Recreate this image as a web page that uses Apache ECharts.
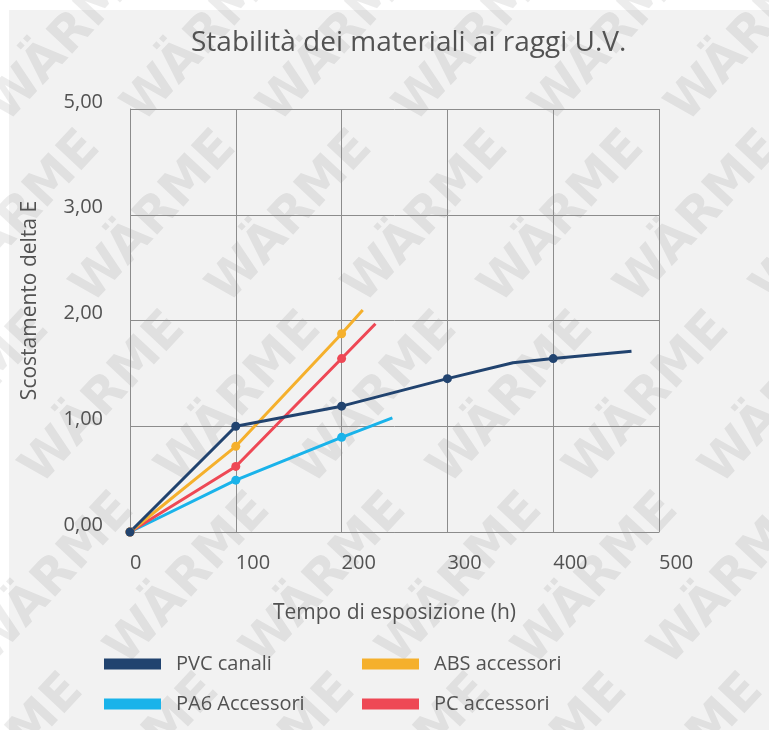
<!DOCTYPE html>
<html>
<head>
<meta charset="utf-8">
<script src="https://cdn.jsdelivr.net/npm/echarts@6/dist/echarts.min.js"></script>
<style>
  html, body { margin: 0; padding: 0; background: #ffffff; }
  #chart { width: 769px; height: 730px; }
</style>
</head>
<body>
<div id="chart"></div>
<script>
// Colour difference (delta E) against UV exposure time, per material
const seriesNames = ['PVC canali', 'PA6 Accessori', 'ABS accessori', 'PC accessori'];

const pvcHours   = [0, 100, 200, 300, 362, 400, 474];
const pvcDeltaE  = [0, 1.00, 1.19, 1.45, 1.60, 1.64, 1.71];

const pa6Hours   = [0, 100, 200, 248];
const pa6DeltaE  = [0, 0.49, 0.895, 1.08];

const absHours   = [0, 100, 200, 220];
const absDeltaE  = [0, 0.81, 1.875, 2.10];

const pcHours    = [0, 100, 200, 232];
const pcDeltaE   = [0, 0.62, 1.64, 1.97];

const xTickLabels = ['0', '100', '200', '300', '400', '500'];
const yTickLabels = ['0,00', '1,00', '2,00', '3,00', '5,00'];

const colors = {
  'PVC canali': '#21436f',
  'PA6 Accessori': '#1ab3ea',
  'ABS accessori': '#f5b02c',
  'PC accessori': '#ee4855'
};

const textColor = '#525252';
const gridColor = '#8c8c8c';
const font = '"Open Sans", "Noto Sans", sans-serif';

// measured readings sit on the 100 h steps; other vertices only shape the curve
function points(hours, values) {
  return hours.map((h, i) => ({
    value: [h, values[i]],
    symbol: h % 100 === 0 ? 'circle' : 'none'
  }));
}

function lineSeries(name, hours, values) {
  return {
    name: name,
    type: 'line',
    data: points(hours, values),
    symbolSize: 9,
    showAllSymbol: true,
    lineStyle: { width: 3, color: colors[name] },
    itemStyle: { color: colors[name] },
    emphasis: { disabled: true },
    animation: false
  };
}

// faint repeated brand mark behind the plot
const watermark = [];
for (let j = -3; j <= 5; j++) {
  for (let i = -7; i <= 7; i++) {
    const cx = 563 + 136 * i + 85 * j;
    const cy = 218 + 181 * j;
    if (cx < -150 || cx > 920 || cy < -150 || cy > 880) continue;
    watermark.push({
      type: 'text',
      x: cx,
      y: cy,
      rotation: 47 * Math.PI / 180,
      z: -10,
      silent: true,
      style: {
        text: 'WÄRME',
        fill: 'rgba(0,0,0,0.075)',
        fontSize: 50,
        fontWeight: 'bold',
        fontFamily: '"DejaVu Sans", sans-serif',
        align: 'center',
        verticalAlign: 'middle',
        textAlign: 'center',
        textVerticalAlign: 'middle'
      }
    });
  }
}

const chart = echarts.init(document.getElementById('chart'), null, { renderer: 'canvas' });

const legendText = { fontFamily: font, fontSize: 20, lineHeight: 20, color: textColor, padding: [0, 0, 0, 10] };

chart.setOption({
  backgroundColor: '#ffffff',
  animation: false,
  graphic: [
    {
      type: 'rect',
      z: -20,
      silent: true,
      shape: { x: 9, y: 10, width: 760, height: 720 },
      style: { fill: '#f2f2f2' }
    }
  ].concat(watermark),
  title: {
    text: 'Stabilità dei materiali ai raggi U.V.',
    left: 186,
    top: 24,
    textStyle: { fontFamily: font, fontSize: 28, fontWeight: 'normal', color: textColor }
  },
  grid: { left: 130, top: 109, width: 529, height: 423, containLabel: false },
  xAxis: {
    type: 'value',
    min: 0,
    max: 500,
    interval: 100,
    name: 'Tempo di esposizione (h)',
    nameLocation: 'middle',
    nameGap: 71,
    nameTextStyle: { fontFamily: font, fontSize: 21, color: textColor },
    axisLine: { show: true, lineStyle: { color: gridColor, width: 1 } },
    axisTick: { show: false },
    splitLine: { show: true, lineStyle: { color: gridColor, width: 1 } },
    axisLabel: {
      margin: 21,
      align: 'left',
      fontFamily: font,
      fontSize: 20,
      color: textColor,
      formatter: v => xTickLabels[Math.round(v / 100)]
    }
  },
  yAxis: {
    type: 'value',
    min: 0,
    max: 4,
    interval: 1,
    name: 'Scostamento delta E',
    nameLocation: 'middle',
    nameGap: 89,
    nameRotate: 90,
    nameTextStyle: { fontFamily: font, fontSize: 21, color: textColor, padding: [0, 0, 0, 40] },
    axisLine: { show: true, lineStyle: { color: gridColor, width: 1 } },
    axisTick: { show: false },
    splitLine: { show: true, lineStyle: { color: gridColor, width: 1 } },
    axisLabel: {
      margin: 27,
      fontFamily: font,
      fontSize: 20,
      lineHeight: 14,
      color: textColor,
      verticalAlign: 'bottom',
      formatter: v => yTickLabels[Math.round(v)]
    }
  },
  legend: [
    {
      data: [seriesNames[0], seriesNames[1]],
      orient: 'vertical',
      left: 104,
      top: 654,
      padding: 0,
      icon: 'rect',
      itemWidth: 57,
      itemHeight: 11,
      itemGap: 20,
      selectedMode: false,
      textStyle: legendText
    },
    {
      data: [seriesNames[2], seriesNames[3]],
      orient: 'vertical',
      left: 362,
      top: 654,
      padding: 0,
      icon: 'rect',
      itemWidth: 57,
      itemHeight: 11,
      itemGap: 20,
      selectedMode: false,
      textStyle: legendText
    }
  ],
  series: [
    lineSeries('PA6 Accessori', pa6Hours, pa6DeltaE),
    lineSeries('PC accessori', pcHours, pcDeltaE),
    lineSeries('ABS accessori', absHours, absDeltaE),
    lineSeries('PVC canali', pvcHours, pvcDeltaE)
  ]
});
</script>
</body>
</html>
